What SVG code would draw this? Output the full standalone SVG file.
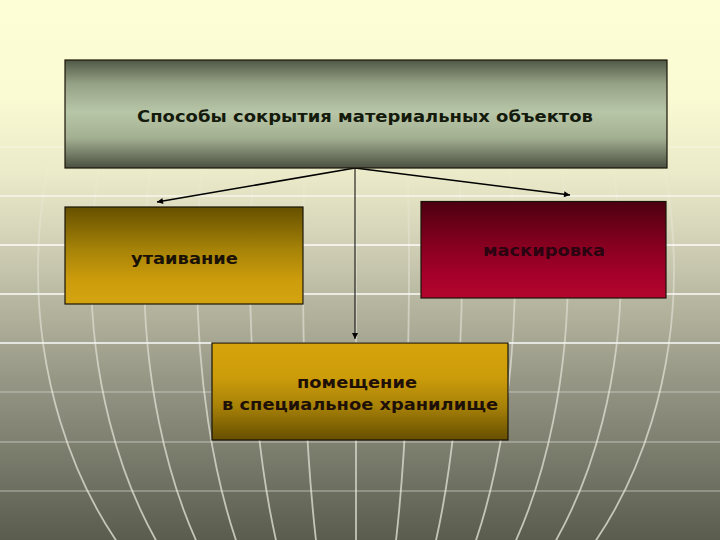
<svg xmlns="http://www.w3.org/2000/svg" width="720" height="540" viewBox="0 0 720 540">
  <defs>
    <linearGradient id="bg" x1="0" y1="0" x2="0" y2="540" gradientUnits="userSpaceOnUse">
      <stop offset="0" stop-color="#fefed6"/>
      <stop offset="0.18" stop-color="#fafad3"/>
      <stop offset="0.32" stop-color="#ebeac9"/>
      <stop offset="0.43" stop-color="#d6d5ba"/>
      <stop offset="0.56" stop-color="#b6b6a0"/>
      <stop offset="0.7" stop-color="#979786"/>
      <stop offset="0.84" stop-color="#7a7c6c"/>
      <stop offset="1" stop-color="#5a5c4e"/>
    </linearGradient>
    <linearGradient id="lineFade" x1="0" y1="150" x2="0" y2="540" gradientUnits="userSpaceOnUse">
      <stop offset="0" stop-color="#ffffff" stop-opacity="0"/>
      <stop offset="0.3" stop-color="#ffffff" stop-opacity="0.3"/>
      <stop offset="0.6" stop-color="#f4f4e8" stop-opacity="0.6"/>
      <stop offset="1" stop-color="#e8e8d8" stop-opacity="0.75"/>
    </linearGradient>
    <linearGradient id="gTop" x1="0" y1="0" x2="0" y2="1">
      <stop offset="0" stop-color="#505846"/>
      <stop offset="0.22" stop-color="#96a286"/>
      <stop offset="0.48" stop-color="#b8c6a8"/>
      <stop offset="0.72" stop-color="#a4b092"/>
      <stop offset="1" stop-color="#4a5040"/>
    </linearGradient>
    <linearGradient id="gGoldDown" x1="0" y1="0" x2="0" y2="1">
      <stop offset="0" stop-color="#665000"/>
      <stop offset="0.45" stop-color="#a88408"/>
      <stop offset="0.75" stop-color="#cc9c0c"/>
      <stop offset="1" stop-color="#d4a410"/>
    </linearGradient>
    <linearGradient id="gGoldUp" x1="0" y1="0" x2="0" y2="1">
      <stop offset="0" stop-color="#d6a40a"/>
      <stop offset="0.35" stop-color="#cc9c0a"/>
      <stop offset="0.65" stop-color="#a88208"/>
      <stop offset="1" stop-color="#664e00"/>
    </linearGradient>
    <linearGradient id="gRed" x1="0" y1="0" x2="0" y2="1">
      <stop offset="0" stop-color="#4c0010"/>
      <stop offset="0.45" stop-color="#860020"/>
      <stop offset="0.75" stop-color="#a4002a"/>
      <stop offset="1" stop-color="#b4062e"/>
    </linearGradient>
    <marker id="arr" viewBox="0 0 10 10" refX="10" refY="5" markerWidth="8" markerHeight="6" orient="auto" markerUnits="userSpaceOnUse">
      <path d="M0,0 L10,5 L0,10 z" fill="#000"/>
    </marker>
  </defs>
  <style>
    .box { stroke: #1a1408; stroke-width: 1.2; }
    .lbl { font-family: "DejaVu Sans", "Liberation Sans", sans-serif; font-weight: bold; font-size: 16.5px; text-anchor: middle; }
    .conn { stroke: #000; fill: none; }
    .mer { fill: none; stroke: url(#lineFade); stroke-width: 1.8; }
    .hl { stroke: #ffffff; stroke-width: 1.3; }
  </style>

  <g id="background">
    <rect x="0" y="0" width="720" height="540" fill="url(#bg)"/>
    <g class="hl">
      <line x1="0" y1="147" x2="720" y2="147" stroke-opacity="0.3"/>
      <line x1="0" y1="196" x2="720" y2="196" stroke-opacity="0.7"/>
      <line x1="0" y1="245" x2="720" y2="245" stroke-opacity="0.95"/>
      <line x1="0" y1="294" x2="720" y2="294" stroke-opacity="0.95"/>
      <line x1="0" y1="343" x2="720" y2="343" stroke-opacity="0.95"/>
      <line x1="0" y1="392" x2="720" y2="392" stroke-opacity="0.3"/>
      <line x1="0" y1="442" x2="720" y2="442" stroke-opacity="0.35"/>
      <line x1="0" y1="491" x2="720" y2="491" stroke-opacity="0.35"/>
    </g>
    <g class="mer">
      <line x1="356" y1="0" x2="356" y2="540"/>
      <ellipse cx="356" cy="270" rx="53" ry="412"/>
      <ellipse cx="356" cy="270" rx="106" ry="412"/>
      <ellipse cx="356" cy="270" rx="159" ry="412"/>
      <ellipse cx="356" cy="270" rx="212" ry="412"/>
      <ellipse cx="356" cy="270" rx="265" ry="412"/>
      <ellipse cx="356" cy="270" rx="318" ry="412"/>
    </g>
  </g>

  <g id="connectors">
    <line class="conn" x1="355" y1="168" x2="157" y2="202" stroke-width="1.6" marker-end="url(#arr)"/>
    <line class="conn" x1="355" y1="168" x2="570" y2="195" stroke-width="1.6" marker-end="url(#arr)"/>
    <line class="conn" x1="355" y1="168" x2="355" y2="339" stroke-width="1" marker-end="url(#arr)"/>
  </g>

  <g id="node-top">
    <rect class="box" x="65" y="60" width="602" height="108" fill="url(#gTop)"/>
    <text class="lbl" x="365" y="122" fill="#141a0c" textLength="456" lengthAdjust="spacingAndGlyphs">Способы сокрытия материальных объектов</text>
  </g>

  <g id="node-utaivanie">
    <rect class="box" x="65" y="207" width="238" height="97" fill="url(#gGoldDown)"/>
    <text class="lbl" x="184.5" y="264" fill="#1a1206" textLength="107" lengthAdjust="spacingAndGlyphs">утаивание</text>
  </g>

  <g id="node-maskirovka">
    <rect class="box" x="421" y="201.5" width="245" height="96.5" fill="url(#gRed)" stroke="#2a0008"/>
    <text class="lbl" x="544" y="256" fill="#2a0410" textLength="122" lengthAdjust="spacingAndGlyphs">маскировка</text>
  </g>

  <g id="node-pomeshchenie">
    <rect class="box" x="212" y="343" width="296" height="97" fill="url(#gGoldUp)"/>
    <text class="lbl" x="357" y="388" fill="#1e1006" textLength="120" lengthAdjust="spacingAndGlyphs">помещение</text>
    <text class="lbl" x="360" y="410" fill="#1e1006" textLength="276" lengthAdjust="spacingAndGlyphs">в специальное хранилище</text>
  </g>
</svg>
